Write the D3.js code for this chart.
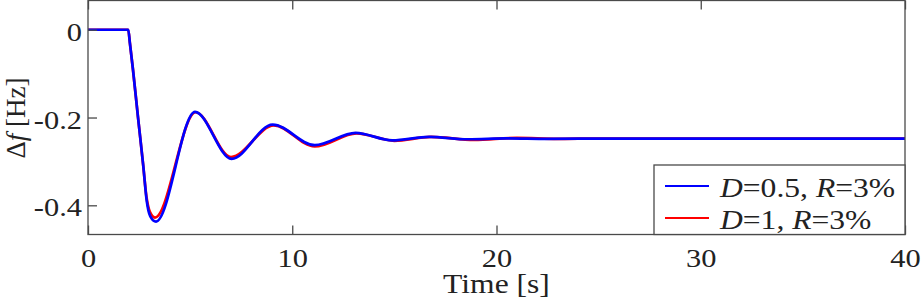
<!DOCTYPE html>
<html>
<head>
<meta charset="utf-8">
<script src="https://cdn.jsdelivr.net/npm/d3@7"></script>
<style>
    body { margin: 0; background: #fff; }
    svg text { font-family: "Liberation Serif", "Times New Roman", serif; fill: #222; }
</style>
</head>
<body>
<svg id="chart" width="921" height="300"></svg>
<script>
// frequency deviation after a load step, two damping settings
const tBlue = [0, 1.97, 2.05, 2.2, 2.45, 2.71, 2.87, 3.05, 3.33, 5.24, 7.03, 9.04, 11.1, 13.1, 14.9, 16.7, 18.6, 20.5, 22.5, 25, 30, 35, 40];
const fBlue = [0, 0, -0.03, -0.09, -0.2, -0.312, -0.388, -0.425, -0.437, -0.187, -0.294, -0.216, -0.263, -0.235, -0.252, -0.244, -0.2495, -0.2475, -0.2485, -0.248, -0.248, -0.248, -0.248];

const tRed = [0, 1.97, 2.05, 2.2, 2.45, 2.7, 2.86, 3.03, 3.28, 5.27, 7.0, 9.1, 11.1, 13.15, 15.0, 16.8, 18.9, 21.0, 23, 25, 30, 35, 40];
const fRed = [0, 0, -0.03, -0.09, -0.2, -0.308, -0.38, -0.415, -0.428, -0.188, -0.29, -0.218, -0.266, -0.236, -0.253, -0.244, -0.251, -0.2465, -0.2485, -0.248, -0.248, -0.248, -0.248];

const xTicks = [0, 10, 20, 30, 40];
const yTicks = [0, -0.2, -0.4];
const yTickLabels = ["0", "-0.2", "-0.4"];

const legendItems = [
    { color: "#0000ff", d: "0.5", r: "3%" },
    { color: "#ff0000", d: "1", r: "3%" }
];

const box = { left: 88, right: 905, top: 0.5, bottom: 234.5 };
const stretch = 1.17;   // glyphs in the picture are wider than they are tall
const axisColor = "#4a4a4a";

const svg = d3.select("#chart");

const x = d3.scaleLinear().domain([0, 40]).range([box.left, box.right]);
const y = d3.scaleLinear().domain([-0.4665, 0.0666]).range([box.bottom, box.top]);

const line = d3.line()
    .x(d => x(d[0]))
    .y(d => y(d[1]))
    .curve(d3.curveMonotoneX);

const plot = svg.append("g");

plot.append("path")
    .datum(tRed.map((t, i) => [t, fRed[i]]))
    .attr("d", line)
    .attr("fill", "none")
    .attr("stroke", "#ff0000")
    .attr("stroke-width", 2.7)
    .attr("stroke-linejoin", "round");

plot.append("path")
    .datum(tBlue.map((t, i) => [t, fBlue[i]]))
    .attr("d", line)
    .attr("fill", "none")
    .attr("stroke", "#0000ff")
    .attr("stroke-width", 2.7)
    .attr("stroke-linejoin", "round");

// axes, ticks pointing inward
const xAxis = svg.append("g")
    .attr("transform", `translate(0, ${box.bottom})`)
    .call(d3.axisBottom(x).tickValues(xTicks).tickSize(-9).tickFormat(d3.format("d")));

const xTop = svg.append("g")
    .attr("transform", `translate(0, ${box.top})`)
    .call(d3.axisTop(x).tickValues(xTicks).tickSize(-9).tickFormat(""));

const yAxis = svg.append("g")
    .attr("transform", `translate(${box.left}, 0)`)
    .call(d3.axisLeft(y).tickValues(yTicks).tickSize(-9).tickFormat((d, i) => yTickLabels[i]));

[xAxis, xTop, yAxis].forEach(a => {
    a.select(".domain").remove();
    a.selectAll(".tick line").attr("stroke", axisColor).attr("stroke-width", 1.3);
});

xAxis.selectAll(".tick text")
    .attr("y", 0).attr("dy", null)
    .attr("transform", `translate(0, 32.5) scale(${stretch}, 1)`)
    .style("font-size", "26px")
    .attr("fill", "#222");

yAxis.selectAll(".tick text")
    .attr("x", 0).attr("dy", null)
    .attr("transform", `translate(-6, 10.6) scale(${stretch}, 1)`)
    .style("font-size", "26px")
    .attr("fill", "#222");

svg.append("rect")
    .attr("x", box.left)
    .attr("y", box.top)
    .attr("width", box.right - box.left)
    .attr("height", box.bottom - box.top)
    .attr("fill", "none")
    .attr("stroke", axisColor)
    .attr("stroke-width", 1.3);

// axis titles
svg.append("text")
    .attr("text-anchor", "middle")
    .attr("transform", `translate(${(box.left + box.right) / 2}, 293) scale(${stretch}, 1)`)
    .style("font-size", "27px")
    .text("Time [s]");

const yLabel = svg.append("text")
    .attr("text-anchor", "middle")
    .attr("transform", `translate(25, 118) scale(1.03, 1) rotate(-90)`)
    .style("font-size", "27px");
yLabel.append("tspan").text("Δ");
yLabel.append("tspan").style("font-style", "italic").text("f");
yLabel.append("tspan").text(" [Hz]");

// legend
const legend = svg.append("g");
legend.append("rect")
    .attr("x", 654)
    .attr("y", 165)
    .attr("width", box.right - 654)
    .attr("height", box.bottom - 165)
    .attr("fill", "#fff")
    .attr("stroke", axisColor)
    .attr("stroke-width", 1.3);

legendItems.forEach((item, i) => {
    const cy = 186 + i * 32;
    legend.append("line")
        .attr("x1", 665).attr("x2", 709)
        .attr("y1", cy).attr("y2", cy)
        .attr("stroke", item.color)
        .attr("stroke-width", 2.2);
    const t = legend.append("text")
        .attr("transform", `translate(720, ${cy + 10.5}) scale(${stretch}, 1)`)
        .style("font-size", "27px");
    t.append("tspan").style("font-style", "italic").text("D");
    t.append("tspan").text(`=${item.d}, `);
    t.append("tspan").style("font-style", "italic").text("R");
    t.append("tspan").text(`=${item.r}`);
});
</script>
</body>
</html>
